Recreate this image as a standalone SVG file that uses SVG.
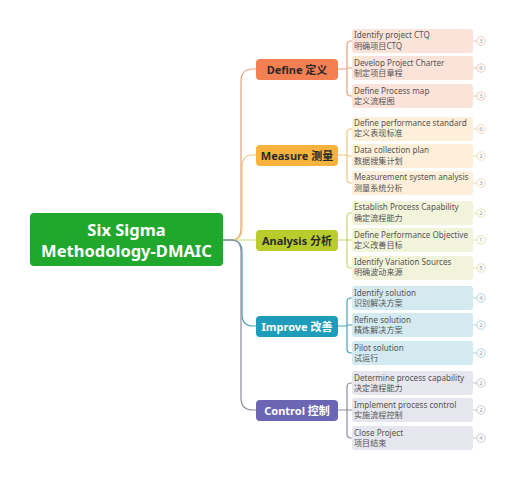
<svg xmlns="http://www.w3.org/2000/svg" width="514" height="500" viewBox="0 0 514 500">
<style>
text{font-family:"Noto Sans","Noto Sans CJK SC",sans-serif;}
.root{font-size:16.5px;font-weight:bold;fill:#fff;}
.br{font-size:11px;font-weight:bold;}
.lf{font-size:8.1px;fill:#555;}
.bd{font-size:6px;fill:#999;text-anchor:middle;}
.conn path{fill:none;stroke-width:1.2;}
</style>
<rect width="514" height="500" fill="#fff"/>
<g class="conn">
<path d="M223,240 H231 Q241,240 241,228 V81 Q241,69 253,69 H256" stroke="#e8a07e"/>
<path d="M223,240 H231 Q242,240 242,228 V167 Q242,155 253,155 H256" stroke="#ecc77f"/>
<path d="M223,240 H256" stroke="#c9d66f"/>
<path d="M223,240 H231 Q242,240 242,252 V314 Q242,326 253,326 H256" stroke="#4a9fb8"/>
<path d="M223,240 H231 Q241,240 241,252 V398 Q241,410 253,410 H256" stroke="#8e8e9e"/>
<path d="M338,69 H347 M352,41 H351 Q347,41 347,45 V92 Q347,96 351,96 H352 M347,68 H352" stroke="#e8a07e"/>
<path d="M338,155 H347 M352,129 H351 Q347,129 347,133 V179 Q347,183 351,183 H352 M347,156 H352" stroke="#ecc77f"/>
<path d="M338,240 H347 M352,213 H351 Q347,213 347,217 V264 Q347,268 351,268 H352 M347,240 H352" stroke="#c9d66f"/>
<path d="M338,326 H347 M352,298 H351 Q347,298 347,302 V349 Q347,353 351,353 H352 M347,325 H352" stroke="#4a9fb8"/>
<path d="M338,410 H347 M352,383 H351 Q347,383 347,387 V434 Q347,438 351,438 H352 M347,410 H352" stroke="#8e8e9e"/>
</g>
<g id="root">
<rect x="30" y="213" width="193" height="53" rx="4" fill="#1fa82c"/>
<text class="root" x="126.5" y="236" text-anchor="middle">Six Sigma</text>
<text class="root" x="126.5" y="257" text-anchor="middle">Methodology-DMAIC</text>
</g>
<g id="define">
<rect x="256" y="59" width="82" height="21" rx="4" fill="#f47f52"/>
<text class="br" x="297" y="73.8" text-anchor="middle" fill="#2a2a2a">Define 定义</text>
</g>
<g id="measure">
<rect x="256" y="145" width="82" height="21" rx="4" fill="#f8b33c"/>
<text class="br" x="297" y="159.8" text-anchor="middle" fill="#2a2a2a">Measure 测量</text>
</g>
<g id="analysis">
<rect x="256" y="230" width="82" height="21" rx="4" fill="#b8cd2c"/>
<text class="br" x="297" y="244.8" text-anchor="middle" fill="#2a2a2a">Analysis 分析</text>
</g>
<g id="improve">
<rect x="256" y="316" width="82" height="21" rx="4" fill="#1e9dbb"/>
<text class="br" x="297" y="330.8" text-anchor="middle" fill="#fff">Improve 改善</text>
</g>
<g id="control">
<rect x="256" y="400" width="82" height="21" rx="4" fill="#6b66b3"/>
<text class="br" x="297" y="414.8" text-anchor="middle" fill="#fff">Control 控制</text>
</g>
<!-- Define leaves -->
<g id="d1"><rect x="352" y="29" width="121" height="24" rx="3" fill="#fce3da"/><text class="lf" x="354" y="38">Identify project CTQ</text><text class="lf" x="354" y="49">明确项目CTQ</text><path d="M473,41 H477" stroke="#e8b8a8" stroke-width="0.8"/><circle cx="481" cy="41" r="4.2" fill="#fff" stroke="#e8b8a8" stroke-width="0.8"/><text class="bd" x="481" y="43.2">3</text></g>
<g id="d2"><rect x="352" y="56" width="121" height="24" rx="3" fill="#fce3da"/><text class="lf" x="354" y="65.5">Develop Project Charter</text><text class="lf" x="354" y="76">制定项目章程</text><path d="M473,68 H477" stroke="#e8b8a8" stroke-width="0.8"/><circle cx="481" cy="68" r="4.2" fill="#fff" stroke="#e8b8a8" stroke-width="0.8"/><text class="bd" x="481" y="70.2">6</text></g>
<g id="d3"><rect x="352" y="84" width="121" height="24" rx="3" fill="#fce3da"/><text class="lf" x="354" y="93.5">Define Process map</text><text class="lf" x="354" y="104">定义流程图</text><path d="M473,96 H477" stroke="#e8b8a8" stroke-width="0.8"/><circle cx="481" cy="96" r="4.2" fill="#fff" stroke="#e8b8a8" stroke-width="0.8"/><text class="bd" x="481" y="98.2">3</text></g>
<!-- Measure leaves -->
<g id="m1"><rect x="352" y="117" width="121" height="24" rx="3" fill="#fdefd9"/><text class="lf" x="354" y="125.5">Define performance standard</text><text class="lf" x="354" y="136">定义表现标准</text><path d="M473,129 H477" stroke="#edd3a8" stroke-width="0.8"/><circle cx="481" cy="129" r="4.2" fill="#fff" stroke="#edd3a8" stroke-width="0.8"/><text class="bd" x="481" y="131.2">6</text></g>
<g id="m2"><rect x="352" y="144" width="121" height="24" rx="3" fill="#fdefd9"/><text class="lf" x="354" y="153">Data collection plan</text><text class="lf" x="354" y="163.5">数据搜集计划</text><path d="M473,156 H477" stroke="#edd3a8" stroke-width="0.8"/><circle cx="481" cy="156" r="4.2" fill="#fff" stroke="#edd3a8" stroke-width="0.8"/><text class="bd" x="481" y="158.2">2</text></g>
<g id="m3"><rect x="352" y="171" width="121" height="24" rx="3" fill="#fdefd9"/><text class="lf" x="354" y="180">Measurement system analysis</text><text class="lf" x="354" y="190.5">测量系统分析</text><path d="M473,183 H477" stroke="#edd3a8" stroke-width="0.8"/><circle cx="481" cy="183" r="4.2" fill="#fff" stroke="#edd3a8" stroke-width="0.8"/><text class="bd" x="481" y="185.2">3</text></g>
<!-- Analysis leaves -->
<g id="a1"><rect x="352" y="201" width="121" height="24" rx="3" fill="#f1f4db"/><text class="lf" x="354" y="210">Establish Process Capability</text><text class="lf" x="354" y="220.5">确定流程能力</text><path d="M473,213 H477" stroke="#d6dd9e" stroke-width="0.8"/><circle cx="481" cy="213" r="4.2" fill="#fff" stroke="#d6dd9e" stroke-width="0.8"/><text class="bd" x="481" y="215.2">2</text></g>
<g id="a2"><rect x="352" y="228" width="121" height="24" rx="3" fill="#f1f4db"/><text class="lf" x="354" y="237.5">Define Performance Objective</text><text class="lf" x="354" y="248">定义改善目标</text><path d="M473,240 H477" stroke="#d6dd9e" stroke-width="0.8"/><circle cx="481" cy="240" r="4.2" fill="#fff" stroke="#d6dd9e" stroke-width="0.8"/><text class="bd" x="481" y="242.2">1</text></g>
<g id="a3"><rect x="352" y="256" width="121" height="24" rx="3" fill="#f1f4db"/><text class="lf" x="354" y="265">Identify Variation Sources</text><text class="lf" x="354" y="275">明确波动来源</text><path d="M473,268 H477" stroke="#d6dd9e" stroke-width="0.8"/><circle cx="481" cy="268" r="4.2" fill="#fff" stroke="#d6dd9e" stroke-width="0.8"/><text class="bd" x="481" y="270.2">5</text></g>
<!-- Improve leaves -->
<g id="i1"><rect x="352" y="286" width="121" height="24" rx="3" fill="#d3eaf1"/><text class="lf" x="354" y="295.5">Identify solution</text><text class="lf" x="354" y="305.5">识别解决方案</text><path d="M473,298 H477" stroke="#9cc9d8" stroke-width="0.8"/><circle cx="481" cy="298" r="4.2" fill="#fff" stroke="#9cc9d8" stroke-width="0.8"/><text class="bd" x="481" y="300.2">4</text></g>
<g id="i2"><rect x="352" y="313" width="121" height="24" rx="3" fill="#d3eaf1"/><text class="lf" x="354" y="322.5">Refine solution</text><text class="lf" x="354" y="333">精炼解决方案</text><path d="M473,325 H477" stroke="#9cc9d8" stroke-width="0.8"/><circle cx="481" cy="325" r="4.2" fill="#fff" stroke="#9cc9d8" stroke-width="0.8"/><text class="bd" x="481" y="327.2">2</text></g>
<g id="i3"><rect x="352" y="341" width="121" height="24" rx="3" fill="#d3eaf1"/><text class="lf" x="354" y="350.5">Pilot solution</text><text class="lf" x="354" y="360.5">试运行</text><path d="M473,353 H477" stroke="#9cc9d8" stroke-width="0.8"/><circle cx="481" cy="353" r="4.2" fill="#fff" stroke="#9cc9d8" stroke-width="0.8"/><text class="bd" x="481" y="355.2">2</text></g>
<!-- Control leaves -->
<g id="c1"><rect x="352" y="371" width="121" height="24" rx="3" fill="#e6e6ee"/><text class="lf" x="354" y="380.5">Determine process capability</text><text class="lf" x="354" y="391">决定流程能力</text><path d="M473,383 H477" stroke="#bbbbc8" stroke-width="0.8"/><circle cx="481" cy="383" r="4.2" fill="#fff" stroke="#bbbbc8" stroke-width="0.8"/><text class="bd" x="481" y="385.2">2</text></g>
<g id="c2"><rect x="352" y="398" width="121" height="24" rx="3" fill="#e6e6ee"/><text class="lf" x="354" y="408">Implement process control</text><text class="lf" x="354" y="418">实施流程控制</text><path d="M473,410 H477" stroke="#bbbbc8" stroke-width="0.8"/><circle cx="481" cy="410" r="4.2" fill="#fff" stroke="#bbbbc8" stroke-width="0.8"/><text class="bd" x="481" y="412.2">2</text></g>
<g id="c3"><rect x="352" y="426" width="121" height="24" rx="3" fill="#e6e6ee"/><text class="lf" x="354" y="435.5">Close Project</text><text class="lf" x="354" y="446">项目结束</text><path d="M473,438 H477" stroke="#bbbbc8" stroke-width="0.8"/><circle cx="481" cy="438" r="4.2" fill="#fff" stroke="#bbbbc8" stroke-width="0.8"/><text class="bd" x="481" y="440.2">4</text></g>
</svg>
